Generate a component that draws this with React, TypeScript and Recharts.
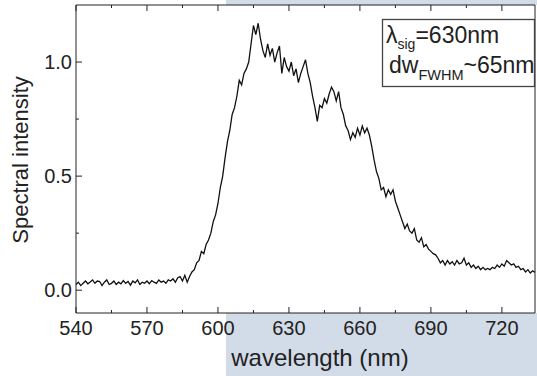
import { LineChart, Line, XAxis, YAxis } from 'recharts'

// wavelength of the first sample, one sample per nm
const START_NM = 540

const baseline = [
  0.025, 0.035, 0.02, 0.03, 0.04, 0.028, 0.036, 0.045, 0.03, 0.04,
  0.038, 0.02, 0.035, 0.045, 0.025, 0.03, 0.04, 0.025, 0.035, 0.028,
  0.042, 0.03, 0.038, 0.022, 0.04, 0.032, 0.045, 0.025, 0.035, 0.03,
  0.04, 0.028, 0.042, 0.035, 0.03, 0.045, 0.035, 0.04, 0.03, 0.045,
  0.04, 0.05, 0.035, 0.055, 0.06, 0.04, 0.065, 0.035, 0.06, 0.08,
]
const rise = [
  0.09, 0.12, 0.13, 0.17, 0.16, 0.2, 0.22, 0.25, 0.3, 0.33, 0.38, 0.45,
  0.5, 0.58, 0.65, 0.7, 0.77, 0.8, 0.85, 0.92, 0.9, 0.95, 0.97, 1.0,
]
const peak = [
  1.08, 1.16, 1.12, 1.17, 1.1, 1.05, 1.02, 1.08, 1.03, 1.06, 1.0, 1.04,
  1.07, 0.95, 1.02, 0.98, 0.96, 1.0, 0.94, 0.97, 0.91, 0.95, 0.98, 1.01,
  0.95, 0.91, 0.85, 0.8, 0.74, 0.81, 0.8, 0.84, 0.82, 0.86, 0.89, 0.87,
  0.83, 0.87, 0.8, 0.77, 0.72, 0.7, 0.66, 0.69, 0.67, 0.71, 0.68, 0.72,
  0.69, 0.71, 0.68, 0.63, 0.57,
]
const tail = [
  0.52, 0.49, 0.44, 0.45, 0.41, 0.44, 0.42, 0.44, 0.39, 0.36, 0.33, 0.3,
  0.27, 0.29, 0.26, 0.25, 0.27, 0.22, 0.21, 0.23, 0.19, 0.2, 0.18, 0.17,
  0.16, 0.155, 0.14, 0.12, 0.13, 0.11, 0.13, 0.115, 0.125, 0.11, 0.13, 0.115,
  0.12, 0.14, 0.11, 0.12, 0.1, 0.11, 0.095, 0.105, 0.09, 0.1, 0.09, 0.095,
  0.09, 0.1, 0.095, 0.11, 0.1, 0.115, 0.105, 0.13, 0.12, 0.11, 0.115, 0.1,
  0.105, 0.09, 0.095, 0.08, 0.09, 0.075, 0.085, 0.078,
]

const xMajor = [540, 570, 600, 630, 660, 690, 720]
const xTicks = [540, 555, 570, 585, 600, 615, 630, 645, 660, 675, 690, 705, 720]
const yMajor = [0, 0.5, 1.0]
const yTicks = [0, 0.25, 0.5, 0.75, 1.0]

const data = [...baseline, ...rise, ...peak, ...tail].map((v, i) => ({
  nm: START_NM + i,
  intensity: v,
}))

const FONT = '"Liberation Sans", Arial, sans-serif'
const INK = '#222'
const BLUE = '#d2dce8'

const BottomTick = (props: any) => {
  const { x, y, payload } = props
  const major = xMajor.includes(payload.value)
  return (
    <g>
      <line x1={x} x2={x} y1={y} y2={y - (major ? 6 : 3)} stroke={INK} strokeWidth={1} />
      {major && (
        <text x={x} y={y + 22} textAnchor="middle" fontSize={20} fill={INK} fontFamily={FONT}>
          {payload.value}
        </text>
      )}
    </g>
  )
}

const TopTick = (props: any) => {
  const { x, y, payload } = props
  const major = xMajor.includes(payload.value)
  return <line x1={x} x2={x} y1={y} y2={y + (major ? 6 : 3)} stroke={INK} strokeWidth={1} />
}

const LeftTick = (props: any) => {
  const { x, y, payload } = props
  const major = yMajor.includes(payload.value)
  return (
    <g>
      <line x1={x} x2={x + (major ? 6 : 3)} y1={y} y2={y} stroke={INK} strokeWidth={1} />
      {major && (
        <text x={x - 4} y={y + 7} textAnchor="end" fontSize={20} fill={INK} fontFamily={FONT}>
          {payload.value.toFixed(1)}
        </text>
      )}
    </g>
  )
}

export default function App() {
  return (
    <div style={{ position: 'absolute', left: 0, top: 0, width: 537, height: 376, background: '#fff' }}>
      {/* blue panel behind the figure, only visible outside the plot box */}
      <div style={{ position: 'absolute', left: 226, top: 0, width: 311, height: 5, background: BLUE }} />
      <div style={{ position: 'absolute', left: 226, top: 313, width: 311, height: 63, background: BLUE }} />
      <div style={{ position: 'absolute', left: 0, top: 0 }}>
        <LineChart width={537} height={376} data={data} margin={{ top: 4, right: 1, bottom: 33, left: 0 }}>
          <XAxis
            xAxisId="b"
            dataKey="nm"
            type="number"
            domain={[540, 734]}
            ticks={xTicks}
            tickSize={0}
            tickMargin={0}
            tickLine={false}
            tick={<BottomTick />}
            axisLine={{ stroke: INK }}
            height={30}
            interval={0}
          />
          <XAxis
            xAxisId="t"
            orientation="top"
            dataKey="nm"
            type="number"
            domain={[540, 734]}
            ticks={xTicks}
            tickSize={0}
            tickMargin={0}
            tickLine={false}
            tick={<TopTick />}
            axisLine={{ stroke: INK }}
            height={1}
            interval={0}
          />
          <YAxis
            yAxisId="l"
            type="number"
            domain={[-0.1, 1.25]}
            ticks={yTicks}
            tickSize={0}
            tickMargin={0}
            tickLine={false}
            tick={<LeftTick />}
            axisLine={{ stroke: INK }}
            width={76}
            interval={0}
          />
          <YAxis
            yAxisId="r"
            orientation="right"
            type="number"
            domain={[-0.1, 1.25]}
            tick={false}
            tickLine={false}
            axisLine={{ stroke: INK }}
            width={1}
          />
          <Line
            xAxisId="b"
            yAxisId="l"
            type="linear"
            dataKey="intensity"
            stroke="#111"
            strokeWidth={1.3}
            dot={false}
            isAnimationActive={false}
          />
        </LineChart>
      </div>
      <svg width={537} height={376} style={{ position: 'absolute', left: 0, top: 0, pointerEvents: 'none' }}>
        <text
          x={28}
          y={160}
          transform="rotate(-90 28 160)"
          textAnchor="middle"
          fontSize={22}
          fill={INK}
          fontFamily={FONT}
        >
          Spectral intensity
        </text>
        <text x={320} y={366} textAnchor="middle" fontSize={24} fill={INK} fontFamily={FONT}>
          wavelength (nm)
        </text>
        <rect x={382.5} y={19.5} width={152} height={67} fill="#fff" stroke="#444" strokeWidth={1.3} />
        <text x={386} y={43} fontSize={23} fill={INK} fontFamily={FONT}>
          λ<tspan fontSize={14} dy={6}>sig</tspan>
          <tspan dy={-6}>=630nm</tspan>
        </text>
        <text x={389} y={73} fontSize={23} fill={INK} fontFamily={FONT}>
          dw<tspan fontSize={14.5} dy={7}>FWHM</tspan>
          <tspan dy={-7}>~65nm</tspan>
        </text>
      </svg>
    </div>
  )
}
